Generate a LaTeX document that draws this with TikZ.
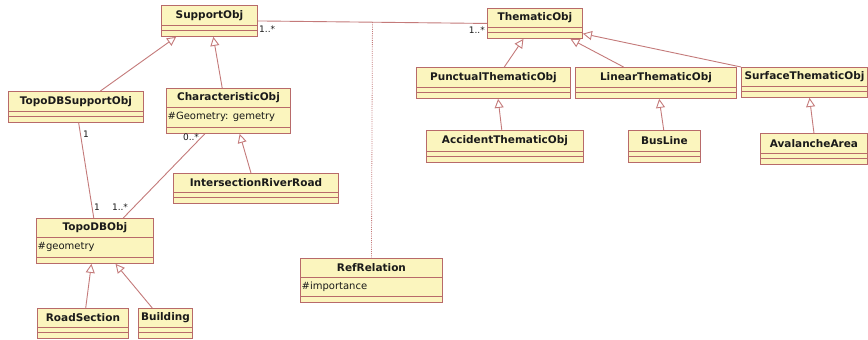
\documentclass[tikz,border=0pt]{standalone}
\usepackage{fontspec}
\setmainfont{DejaVu Sans}
\usetikzlibrary{arrows.meta,calc}
\definecolor{boxfill}{HTML}{FBF5BE}
\definecolor{boxline}{HTML}{B86A6A}
\definecolor{connc}{HTML}{C47A7A}
\definecolor{txt}{HTML}{1A1A1A}
\tikzset{
  clsbox/.style={draw=boxline, fill=boxfill, line width=0.9pt, inner sep=0pt, anchor=north west},
  clsline/.style={draw=boxline, line width=0.7pt},
  clstitle/.style={font=\fontsize{10.5}{12}\selectfont\bfseries, text=txt, inner sep=0pt},
  clsattr/.style={font=\fontsize{10}{12}\selectfont, text=txt, inner sep=0pt, anchor=west},
  mult/.style={font=\fontsize{9}{11}\selectfont, text=txt, inner sep=0pt},
  gen/.style={draw=connc, line width=0.9pt, -{Triangle[length=9pt,width=9pt,fill=white]}},
  assoc/.style={draw=connc, line width=0.9pt},
  refdot/.style={draw=connc, line width=0.8pt, dash pattern=on 1pt off 1.2pt}
}
% id, x, y, w, h, title
\newcommand{\umlcls}[6]{%
  \node[clsbox, minimum width=#4pt, minimum height=#5pt] (#1) at (#2,#3) {};
  \node[clstitle] at ($(#1.north)+(0,{(#5-11)/2+0.5})$) {#6};
  \draw[clsline] ($(#1.north west)+(0,#5-11)$) -- ($(#1.north east)+(0,#5-11)$);
  \draw[clsline] ($(#1.north west)+(0,#5-5.5)$) -- ($(#1.north east)+(0,#5-5.5)$);
}
% id, x, y, w, h, title, attr
\newcommand{\umlclsa}[7]{%
  \node[clsbox, minimum width=#4pt, minimum height=#5pt] (#1) at (#2,#3) {};
  \node[clstitle] at ($(#1.north)+(0,10)$) {#6};
  \draw[clsline] ($(#1.north west)+(0,19)$) -- ($(#1.north east)+(0,19)$);
  \node[clsattr] at ($(#1.north west)+(1.5,29)$) {#7};
  \draw[clsline] ($(#1.north west)+(0,#5-6)$) -- ($(#1.north east)+(0,#5-6)$);
}
\begin{document}
\begin{tikzpicture}[x=1pt,y=-1pt]
\fill[white] (0,0) rectangle (868,340);
\useasboundingbox (0,0) rectangle (868,340);

\umlcls{sup}{161}{5}{96}{31}{SupportObj}
\umlcls{tds}{8}{91}{135}{31}{TopoDBSupportObj}
\umlclsa{cha}{166}{88}{124}{45}{CharacteristicObj}{\#Geometry: gemetry}
\umlcls{irr}{173}{173}{165}{30}{IntersectionRiverRoad}
\umlclsa{tdo}{36}{218}{117}{45}{TopoDBObj}{\#geometry}
\umlcls{rs}{37}{308}{91}{30}{RoadSection}
\umlcls{bld}{138}{308}{54}{30}{Building}
\umlclsa{ref}{300}{258}{142}{44}{RefRelation}{\#importance}
\umlcls{thm}{487}{8}{95}{30}{ThematicObj}
\umlcls{pun}{416}{67}{154}{31}{PunctualThematicObj}
\umlcls{lin}{575}{67}{161}{31}{LinearThematicObj}
\umlcls{sur}{741}{67}{126}{30}{SurfaceThematicObj}
\umlcls{acc}{426}{130}{157}{32}{AccidentThematicObj}
\umlcls{bus}{628}{130}{72}{32}{BusLine}
\umlcls{ava}{760}{133}{107}{31}{AvalancheArea}

% generalizations
\draw[gen] ($(tds.north west)!0.68!(tds.north east)$) -- ($(sup.south west)!0.156!(sup.south east)$);
\draw[gen] ($(cha.north west)!0.45!(cha.north east)$) -- ($(sup.south west)!0.54!(sup.south east)$);
\draw[gen] ($(irr.north west)!0.47!(irr.north east)$) -- ($(cha.south west)!0.59!(cha.south east)$);
\draw[gen] ($(rs.north west)!0.53!(rs.north east)$) -- ($(tdo.south west)!0.47!(tdo.south east)$);
\draw[gen] ($(bld.north west)!0.26!(bld.north east)$) -- ($(tdo.south west)!0.675!(tdo.south east)$);
\draw[gen] ($(pun.north west)!0.57!(pun.north east)$) -- ($(thm.south west)!0.38!(thm.south east)$);
\draw[gen] ($(lin.north west)!0.3!(lin.north east)$) -- ($(thm.south west)!0.87!(thm.south east)$);
\draw[gen] (sur.north west) -- ($(thm.north east)!0.83!(thm.south east)$);
\draw[gen] ($(acc.north west)!0.48!(acc.north east)$) -- ($(pun.south west)!0.53!(pun.south east)$);
\draw[gen] ($(bus.north west)!0.49!(bus.north east)$) -- ($(lin.south west)!0.52!(lin.south east)$);
\draw[gen] ($(ava.north west)!0.5!(ava.north east)$) -- ($(sur.south west)!0.54!(sur.south east)$);

% associations
\draw[assoc] (sup.east) -- (thm.west);
\coordinate (mid) at ($(sup.east)!0.5!(thm.west)$);
\draw[refdot] (mid) -- (ref.north);
\draw[assoc] ($(tds.south west)!0.52!(tds.south east)$) -- ($(tdo.north west)!0.49!(tdo.north east)$);
\draw[assoc] ($(cha.south west)!0.31!(cha.south east)$) -- ($(tdo.north west)!0.74!(tdo.north east)$);

% multiplicities
\node[mult, anchor=west] (m1) at (259,29) {1..*};
\node[mult, anchor=east] (m2) at (485,30) {1..*};
\node[mult] (m3) at (86,134) {1};
\node[mult] (m4) at (97,207) {1};
\node[mult] (m5) at (191,137) {0..*};
\node[mult] (m6) at (120,207) {1..*};
\end{tikzpicture}
\end{document}
